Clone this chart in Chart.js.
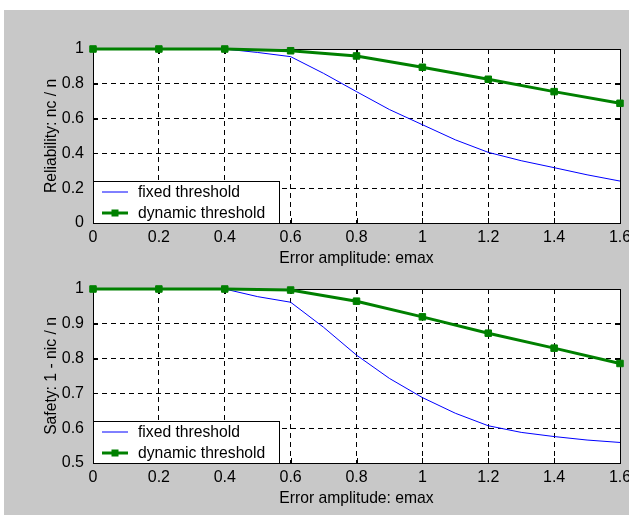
<!DOCTYPE html>
<html>
<head>
<meta charset="utf-8">
<script src="https://cdn.jsdelivr.net/npm/chart.js@4.4.1/dist/chart.umd.min.js"></script>
<style>
  body { margin: 0; width: 629px; height: 515px; background: #fff; position: relative; overflow: hidden; }
  #bg { position: absolute; left: 4px; top: 10px; right: 0; bottom: 0; background: #c8c8c8; }
  .box { position: absolute; left: 4px; width: 625px; height: 260px; }
</style>
</head>
<body>
<div id="bg"></div>
<div class="box" style="top:10px"><canvas id="relChart" width="625" height="260"></canvas></div>
<div class="box" style="top:250px"><canvas id="safeChart" width="625" height="260"></canvas></div>
<script>
const xTicks = [0, 0.2, 0.4, 0.6, 0.8, 1, 1.2, 1.4, 1.6];
const fixedX = [0, 0.1, 0.2, 0.3, 0.4, 0.5, 0.6, 0.7, 0.8, 0.9, 1, 1.1, 1.2, 1.3, 1.4, 1.5, 1.6];
const dynamicX = [0, 0.2, 0.4, 0.6, 0.8, 1, 1.2, 1.4, 1.6];

// reliability: nc / n
const relTicks = [0, 0.2, 0.4, 0.6, 0.8, 1];
const relFixed = [1, 1, 1, 1, 1, 0.98, 0.956, 0.86, 0.755, 0.652, 0.565, 0.478, 0.406, 0.358, 0.318, 0.277, 0.241];
const relDynamic = [1, 1, 1, 0.99, 0.96, 0.895, 0.826, 0.755, 0.688];

// safety: 1 - nic / n
const safeTicks = [0.5, 0.6, 0.7, 0.8, 0.9, 1];
const safeFixed = [1, 1, 1, 1, 1, 0.978, 0.962, 0.89, 0.81, 0.743, 0.688, 0.643, 0.607, 0.588, 0.576, 0.566, 0.559];
const safeDynamic = [1, 1, 1, 0.997, 0.965, 0.92, 0.873, 0.83, 0.786];

const FONT = "'Liberation Sans', Arial, sans-serif";
const FSIZE = 15.7;
const TSIZE = 16;
const GREEN = '#008000';
const BLUE = '#0000ff';

const axesFrame = {
    id: 'axesFrame',
    beforeDraw(chart) {
        const { ctx, chartArea: a } = chart;
        ctx.save();
        ctx.fillStyle = '#fff';
        ctx.fillRect(a.left, a.top, a.width, a.height);
        ctx.restore();
    },
    beforeDatasetsDraw(chart) {
        const { ctx, chartArea: a, scales } = chart;
        ctx.save();
        ctx.strokeStyle = '#000';
        ctx.lineWidth = 1;
        ctx.strokeRect(a.left + 0.5, a.top + 0.5, a.width, a.height);
        // inward ticks, like matlab
        ctx.beginPath();
        scales.x.ticks.forEach(t => {
            const px = Math.round(scales.x.getPixelForValue(t.value)) + 0.5;
            ctx.moveTo(px, a.bottom); ctx.lineTo(px, a.bottom - 5);
            ctx.moveTo(px, a.top); ctx.lineTo(px, a.top + 5);
        });
        scales.y.ticks.forEach(t => {
            const py = Math.round(scales.y.getPixelForValue(t.value)) + 0.5;
            ctx.moveTo(a.left, py); ctx.lineTo(a.left + 5, py);
            ctx.moveTo(a.right, py); ctx.lineTo(a.right - 5, py);
        });
        ctx.stroke();
        ctx.restore();
    },
    afterDatasetsDraw(chart) {
        // legend box sits inside the plot, lower left
        const { ctx, chartArea: a } = chart;
        const w = 186, h = 42;
        const x0 = a.left, y0 = a.bottom - h;
        ctx.save();
        ctx.fillStyle = '#fff';
        ctx.fillRect(x0, y0, w, h);
        ctx.strokeStyle = '#000';
        ctx.lineWidth = 1;
        ctx.strokeRect(x0 + 0.5, y0 + 0.5, w, h);
        ctx.font = FSIZE + 'px ' + FONT;
        ctx.textBaseline = 'middle';
        ctx.fillStyle = '#000';
        const rows = [a.bottom - 31, a.bottom - 10];
        chart.data.datasets.forEach((ds, i) => {
            const y = rows[i];
            ctx.strokeStyle = ds.borderColor;
            ctx.lineWidth = ds.borderWidth;
            ctx.beginPath();
            ctx.moveTo(x0 + 9, y);
            ctx.lineTo(x0 + 35, y);
            ctx.stroke();
            if (ds.pointRadius > 0) {
                ctx.fillStyle = ds.borderColor;
                ctx.fillRect(x0 + 22 - 3.5, y - 3.5, 7, 7);
            }
            ctx.fillStyle = '#000';
            ctx.fillText(ds.label, x0 + 45, y + 1);
        });
        ctx.restore();
    }
};

function makeChart(id, yTitle, yTicks, fixed, dynamic) {
    const ctx = document.getElementById(id).getContext('2d');
    return new Chart(ctx, {
        type: 'line',
        data: {
            datasets: [{
                label: 'fixed threshold',
                data: fixedX.map((x, i) => ({ x: x, y: fixed[i] })),
                borderColor: BLUE,
                borderWidth: 1,
                pointRadius: 0,
                order: 1
            }, {
                label: 'dynamic threshold',
                data: dynamicX.map((x, i) => ({ x: x, y: dynamic[i] })),
                borderColor: GREEN,
                backgroundColor: GREEN,
                borderWidth: 3,
                pointStyle: 'rect',
                pointRadius: 4.6,
                pointBorderWidth: 1,
                order: 0
            }]
        },
        options: {
            responsive: false,
            animation: false,
            layout: { padding: { left: 0, top: 39, right: 9, bottom: 0 } },
            elements: { line: { tension: 0 } },
            clip: false,
            plugins: { legend: { display: false }, tooltip: { enabled: false } },
            scales: {
                x: {
                    type: 'linear',
                    min: 0,
                    max: 1.6,
                    afterBuildTicks: s => { s.ticks = xTicks.map(v => ({ value: v })); },
                    afterFit: s => { s.height = 47; s.paddingLeft = 0; s.paddingRight = 0; },
                    grid: { color: '#000', lineWidth: 1, drawTicks: false },
                    border: { display: false, dash: [5, 4] },
                    ticks: {
                        autoSkip: false, maxRotation: 0, padding: 5, color: '#000',
                        font: { family: FONT, size: TSIZE },
                        callback: v => String(v)
                    },
                    title: {
                        display: true, text: 'Error amplitude: emax', color: '#000',
                        font: { family: FONT, size: FSIZE }, padding: { top: 0, bottom: 2 }
                    }
                },
                y: {
                    type: 'linear',
                    min: yTicks[0],
                    max: yTicks[yTicks.length - 1],
                    afterBuildTicks: s => { s.ticks = yTicks.map(v => ({ value: v })); },
                    afterFit: s => { s.width = 89; s.paddingTop = 0; s.paddingBottom = 0; },
                    grid: { color: '#000', lineWidth: 1, drawTicks: false },
                    border: { display: false, dash: [5, 4] },
                    ticks: {
                        padding: 9, color: '#000',
                        font: { family: FONT, size: TSIZE },
                        callback: v => String(v)
                    },
                    title: {
                        display: true, text: yTitle, color: '#000',
                        font: { family: FONT, size: FSIZE }, padding: { top: 38, bottom: 0 }
                    }
                }
            }
        },
        plugins: [axesFrame]
    });
}

makeChart('relChart', 'Reliability: nc / n', relTicks, relFixed, relDynamic);
makeChart('safeChart', 'Safety: 1 - nic / n', safeTicks, safeFixed, safeDynamic);
</script>
</body>
</html>
